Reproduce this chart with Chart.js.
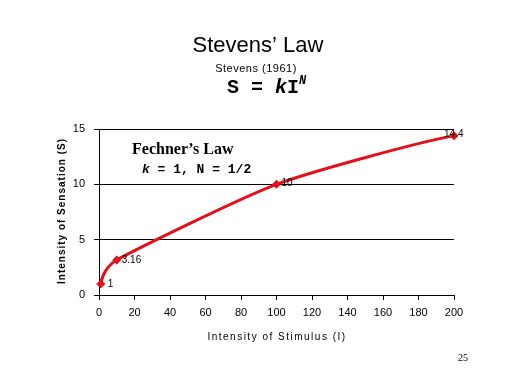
<!DOCTYPE html>
<html>
<head>
<meta charset="utf-8">
<script src="https://cdn.jsdelivr.net/npm/chart.js@4"></script>
<style>
    html, body { margin: 0; padding: 0; background: #fff; }
    canvas { display: block; }
</style>
</head>
<body>
<canvas id="stevensChart" width="512" height="384"></canvas>
<script>
// Dados
const stimulus = [1, 10, 100, 200];
const sensation = [1, 3.16, 10, 14.4];
const pointLabels = ['1', '3.16', '10', '14.4'];

const xTicks = [0, 20, 40, 60, 80, 100, 120, 140, 160, 180, 200];
const yTicks = [0, 5, 10, 15];

const RED = '#e3101a';

// Suavização parecida com a do Excel
const smoothPlugin = {
    id: 'excelSmooth',
    beforeDatasetDraw(chart, args) {
        const meta = args.meta;
        if (!meta.dataset) return;
        meta.dataset.updateControlPoints(chart.chartArea, 'x');
        const pts = meta.data;
        const n = pts.length;
        const unit = (dx, dy) => { const l = Math.hypot(dx, dy) || 1; return [dx / l, dy / l]; };
        const dist = (a, b) => Math.hypot(b.x - a.x, b.y - a.y);

        // tangentes internas
        const tan = pts.map((p, i) => {
            if (i === 0 || i === n - 1) return null;
            return unit(pts[i + 1].x - pts[i - 1].x, pts[i + 1].y - pts[i - 1].y);
        });
        const span = pts.map((p, i) => (i > 0 && i < n - 1) ? dist(pts[i - 1], pts[i + 1]) / 10 : null);
        // pontas: reflexo da tangente vizinha sobre a corda
        const reflect = (d, a, b) => {
            const c = unit(b.x - a.x, b.y - a.y);
            const dot = d[0] * c[0] + d[1] * c[1];
            return [2 * dot * c[0] - d[0], 2 * dot * c[1] - d[1]];
        };
        if (n > 2) {
            tan[0] = reflect(tan[1], pts[0], pts[1]);
            tan[n - 1] = reflect(tan[n - 2], pts[n - 2], pts[n - 1]);
            span[0] = span[1];
            span[n - 1] = span[n - 2];
        } else {
            tan[0] = tan[n - 1] = unit(pts[n - 1].x - pts[0].x, pts[n - 1].y - pts[0].y);
            span[0] = span[n - 1] = Infinity;
        }

        pts.forEach((p, i) => {
            const t = tan[i];
            const back = i > 0 ? Math.min(span[i], dist(pts[i - 1], p) / 3) : 0;
            const fwd = i < n - 1 ? Math.min(span[i], dist(p, pts[i + 1]) / 3) : 0;
            p.cp1x = p.x - t[0] * back;
            p.cp1y = p.y - t[1] * back;
            p.cp2x = p.x + t[0] * fwd;
            p.cp2y = p.y + t[1] * fwd;
        });
        meta.dataset._path = undefined;
    }
};

// Textos desenhados por cima do gráfico
const textPlugin = {
    id: 'slideText',
    afterDraw(chart) {
        const ctx = chart.ctx;
        ctx.save();
        ctx.fillStyle = '#000';
        ctx.textBaseline = 'alphabetic';

        // Títulos
        ctx.textAlign = 'center';
        ctx.font = '22px "Liberation Sans", Arial, sans-serif';
        ctx.fillText('Stevens\u2019 Law', 258, 52);
        ctx.font = '11px "Liberation Sans", Arial, sans-serif';
        ctx.letterSpacing = '0.5px';
        ctx.fillText('Stevens (1961)', 256, 72);
        ctx.letterSpacing = '0px';

        // S = kI^N
        ctx.textAlign = 'left';
        let x = 227;
        ctx.font = 'bold 20px "Liberation Mono", "Courier New", monospace';
        ctx.fillText('S = ', x, 93);
        x += ctx.measureText('S = ').width;
        ctx.font = 'italic bold 20px "Liberation Mono", "Courier New", monospace';
        ctx.fillText('k', x, 93);
        x += ctx.measureText('k').width;
        ctx.font = 'bold 20px "Liberation Mono", "Courier New", monospace';
        ctx.fillText('I', x, 93);
        x += ctx.measureText('I').width;
        ctx.font = 'italic bold 12px "Liberation Mono", "Courier New", monospace';
        ctx.fillText('N', x, 84);

        // Fechner's Law
        ctx.font = 'bold 16px "Liberation Serif", "Times New Roman", serif';
        ctx.fillText('Fechner\u2019s Law', 132, 154);
        x = 142;
        ctx.font = 'italic bold 13px "Liberation Mono", "Courier New", monospace';
        ctx.fillText('k', x, 173);
        x += ctx.measureText('k').width;
        ctx.font = 'bold 13px "Liberation Mono", "Courier New", monospace';
        ctx.fillText(' = 1, N = 1/2', x, 173);

        // Rótulos dos pontos
        const xs = chart.scales.x, ys = chart.scales.y;
        ctx.font = '10px "Liberation Sans", Arial, sans-serif';
        ctx.textBaseline = 'middle';
        const offsets = [[7, 0], [5, 0], [5, -1], [-10, -1]];
        pointLabels.forEach((label, i) => {
            const px = xs.getPixelForValue(stimulus[i]);
            const py = ys.getPixelForValue(sensation[i]);
            ctx.fillText(label, px + offsets[i][0], py + offsets[i][1]);
        });

        // Títulos dos eixos
        ctx.textAlign = 'center';
        ctx.font = '10px "Liberation Sans", Arial, sans-serif';
        ctx.letterSpacing = '1.5px';
        ctx.fillText('Intensity of Stimulus (I)', 277, 337);

        ctx.save();
        ctx.translate(62, 211);
        ctx.rotate(-Math.PI / 2);
        ctx.font = 'bold 10px "Liberation Sans", Arial, sans-serif';
        ctx.letterSpacing = '1px';
        ctx.fillText('Intensity of Sensation (S)', 0, 0);
        ctx.restore();
        ctx.letterSpacing = '0px';

        // Número do slide
        ctx.font = '10px "Liberation Serif", "Times New Roman", serif';
        ctx.fillText('25', 463, 358);
        ctx.restore();
    }
};

function createChart(canvasId) {
    const ctx = document.getElementById(canvasId).getContext('2d');
    return new Chart(ctx, {
        type: 'scatter',
        data: {
            datasets: [{
                label: 'S = kI^N',
                data: stimulus.map((v, i) => ({ x: v, y: sensation[i] })),
                showLine: true,
                tension: 0.4,
                borderColor: RED,
                borderWidth: 3,
                pointStyle: 'rectRot',
                pointRadius: 4.5,
                pointBorderWidth: 0,
                pointBackgroundColor: RED,
                pointBorderColor: RED,
                clip: false
            }]
        },
        options: {
            responsive: false,
            animation: false,
            layout: {
                padding: { left: 69, right: 58, top: 129, bottom: 59 }
            },
            plugins: {
                legend: { display: false },
                tooltip: { enabled: false }
            },
            scales: {
                x: {
                    type: 'linear',
                    min: 0,
                    max: 200,
                    afterFit: scale => { scale.height = 30; },
                    afterBuildTicks: scale => { scale.ticks = xTicks.map(v => ({ value: v })); },
                    ticks: {
                        color: '#000',
                        padding: 6,
                        maxRotation: 0,
                        font: { family: '"Liberation Sans", Arial, sans-serif', size: 11 }
                    },
                    grid: {
                        drawOnChartArea: false,
                        drawTicks: true,
                        tickLength: 5,
                        color: '#000'
                    },
                    border: { display: true, color: '#000', width: 1 }
                },
                y: {
                    min: 0,
                    max: 15,
                    afterFit: scale => { scale.width = 30; },
                    afterBuildTicks: scale => { scale.ticks = yTicks.map(v => ({ value: v })); },
                    ticks: {
                        color: '#000',
                        padding: 9,
                        font: { family: '"Liberation Sans", Arial, sans-serif', size: 11 }
                    },
                    grid: {
                        drawTicks: true,
                        tickLength: 5,
                        color: '#000',
                        lineWidth: 1
                    },
                    border: { display: true, color: '#000', width: 1 }
                }
            }
        },
        plugins: [smoothPlugin, textPlugin]
    });
}

document.addEventListener('DOMContentLoaded', () => {
    window.stevensChart = createChart('stevensChart');
});
</script>
</body>
</html>
